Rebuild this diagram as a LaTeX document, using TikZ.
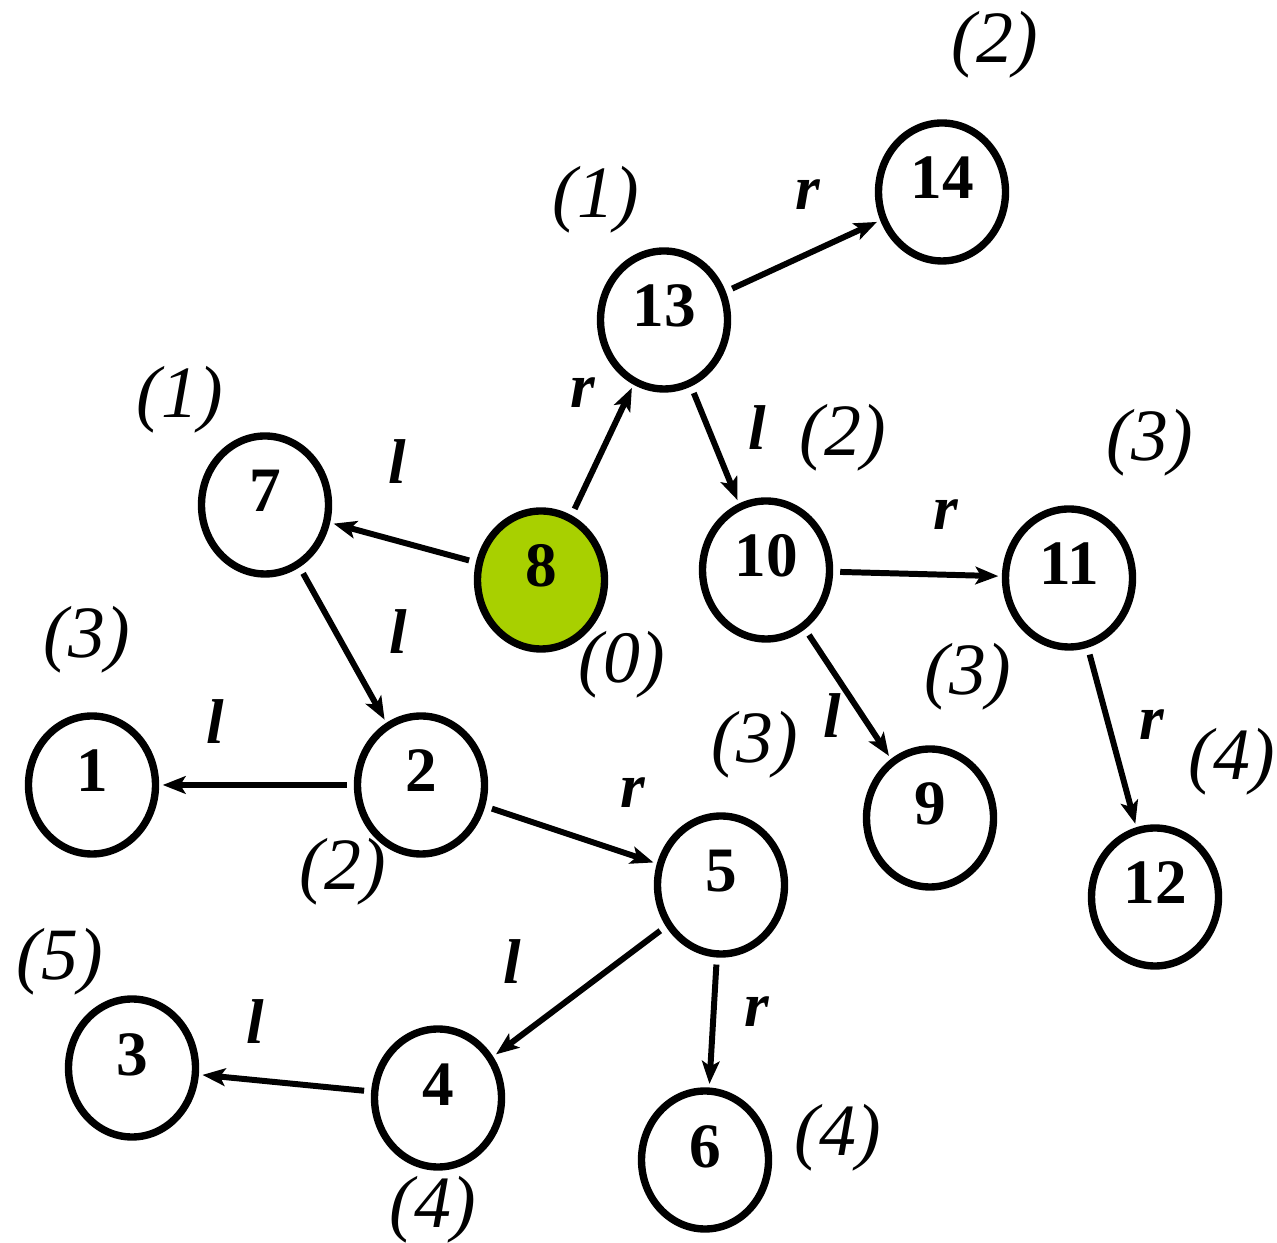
\documentclass[tikz,border=0pt]{standalone}
\usepackage{fontspec}
\setmainfont{LiberationSerif}[Extension=.ttf,UprightFont=*-Regular,BoldFont=*-Bold,ItalicFont=*-Italic,BoldItalicFont=*-BoldItalic]
\usetikzlibrary{arrows.meta,shapes.geometric}
\definecolor{rootgreen}{RGB}{168,208,0}

\begin{document}
\begin{tikzpicture}[x=1cm,y=1cm,
  vtx/.style={ellipse,draw=black,line width=2.1pt,fill=white,minimum width=1.27cm,minimum height=1.38cm,inner sep=0pt,
    font=\fontsize{18}{20}\selectfont\bfseries,text height=0.44cm,text depth=0.30cm},
  root/.style={vtx,fill=rootgreen},
  edge/.style={line width=1.7pt,-{Stealth[length=6.5pt,width=5pt,inset=1.5pt]},shorten <=2pt,shorten >=1pt},
  dir/.style={font=\fontsize{18}{20}\selectfont\bfseries\itshape},
  lvl/.style={font=\fontsize{21}{24}\selectfont\itshape}]
\useasboundingbox (0,0) rectangle (12.77,12.42);
\node[vtx] (n14) at (9.42,10.50) {14};
\node[vtx] (n13) at (6.64,9.22) {13};
\node[vtx] (n7) at (2.65,7.37) {7};
\node[root] (n8) at (5.41,6.62) {8};
\node[vtx] (n10) at (7.66,6.72) {10};
\node[vtx] (n11) at (10.69,6.64) {11};
\node[vtx] (n1) at (0.92,4.57) {1};
\node[vtx] (n2) at (4.21,4.57) {2};
\node[vtx] (n9) at (9.30,4.24) {9};
\node[vtx] (n5) at (7.21,3.57) {5};
\node[vtx] (n12) at (11.55,3.45) {12};
\node[vtx] (n3) at (1.32,1.74) {3};
\node[vtx] (n4) at (4.38,1.44) {4};
\node[vtx] (n6) at (7.05,0.82) {6};
\draw[edge] (n8) -- (n7);
\draw[edge] (n8) -- (n13);
\draw[edge] (n13) -- (n14);
\draw[edge] (n13) -- (n10);
\draw[edge] (n10) -- (n11);
\draw[edge] (n10) -- (n9);
\draw[edge] (n11) -- (n12);
\draw[edge] (n7) -- (n2);
\draw[edge] (n2) -- (n1);
\draw[edge] (n2) -- (n5);
\draw[edge] (n5) -- (n4);
\draw[edge] (n5) -- (n6);
\draw[edge] (n4) -- (n3);
\node[dir] (d87) at (3.97,7.80) {l};
\node[dir] (d813) at (5.83,8.49) {r};
\node[dir] (d1314) at (8.08,10.47) {r};
\node[dir] (d1310) at (7.57,8.14) {l};
\node[dir] (d1011) at (9.46,7.27) {r};
\node[dir] (d109) at (8.32,5.26) {l};
\node[dir] (d1112) at (11.52,5.17) {r};
\node[dir] (d72) at (3.98,6.10) {l};
\node[dir] (d21) at (2.15,5.20) {l};
\node[dir] (d25) at (6.33,4.49) {r};
\node[dir] (d54) at (5.12,2.80) {l};
\node[dir] (d56) at (7.57,2.30) {r};
\node[dir] (d43) at (2.55,2.20) {l};
\node[lvl] (h14) at (9.95,11.97) {(2)};
\node[lvl] (h13) at (5.96,10.42) {(1)};
\node[lvl] (h7) at (1.80,8.42) {(1)};
\node[lvl] (h8) at (6.22,5.77) {(0)};
\node[lvl] (h10) at (8.43,8.04) {(2)};
\node[lvl] (h11) at (11.50,7.99) {(3)};
\node[lvl] (h1) at (0.87,6.02) {(3)};
\node[lvl] (h2) at (3.43,3.70) {(2)};
\node[lvl] (h9) at (9.68,5.65) {(3)};
\node[lvl] (h5) at (7.55,4.97) {(3)};
\node[lvl] (h12) at (12.32,4.80) {(4)};
\node[lvl] (h3) at (0.60,2.80) {(5)};
\node[lvl] (h4) at (4.33,0.32) {(4)};
\node[lvl] (h6) at (8.38,1.04) {(4)};
\end{tikzpicture}
\end{document}
